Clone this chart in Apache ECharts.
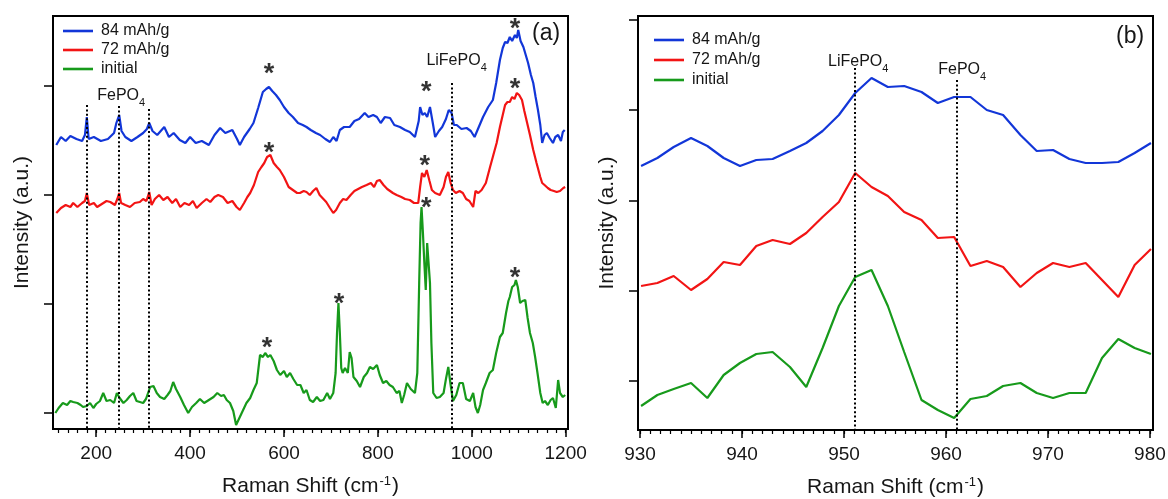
<!DOCTYPE html>
<html>
<head>
<meta charset="utf-8">
<script src="https://cdn.jsdelivr.net/npm/echarts@6/dist/echarts.min.js"></script>
<style>
html, body { margin: 0; padding: 0; background: #fff; }
#chart { width: 1168px; height: 499px; }
</style>
</head>
<body>
<div id="chart"></div>
<script>
const names = ['84 mAh/g', '72 mAh/g', 'initial']
const colors = ['#1236d8', '#f21414', '#179a1b']

// panel (a) : [Raman shift, intensity (a.u., offset traces)]
const blueA = [[115,268],[125,276],[135,272],[145,277],[158,274],[170,272],[176,278],[180,296],[184,274],[195,276],[210,272],[225,274],[238,280],[243,290],[249,298],[254,282],[262,276],[275,272],[288,276],[300,280],[308,284],[313,290],[320,282],[330,278],[345,286],[355,276],[365,280],[378,273],[390,270],[400,276],[412,270],[425,272],[440,268],[452,278],[464,285],[475,280],[490,283],[500,274],[506,268],[515,276],[527,284],[535,290],[545,305],[555,321],[562,324],[568,326],[575,322],[583,318],[591,313],[600,306],[610,300],[619,296],[630,290],[640,288],[648,286],[657,283],[668,280],[677,278],[688,274],[698,271],[705,276],[712,272],[719,283],[728,286],[740,286],[750,292],[760,294],[772,300],[780,296],[790,298],[798,296],[806,290],[815,296],[826,295],[835,288],[847,286],[858,283],[868,281],[879,276],[887,292],[890,306],[895,298],[900,300],[905,296],[911,306],[917,290],[922,276],[930,282],[937,286],[945,294],[951,303],[957,300],[962,288],[968,288],[978,284],[989,285],[998,282],[1006,276],[1015,286],[1024,296],[1035,306],[1045,313],[1052,330],[1060,353],[1066,365],[1071,371],[1076,370],[1081,376],[1086,372],[1092,378],[1096,375],[1099,383],[1104,372],[1110,366],[1115,358],[1120,350],[1126,338],[1131,330],[1136,316],[1141,303],[1146,288],[1150,270],[1155,278],[1160,280],[1166,275],[1173,270],[1178,276],[1184,278],[1190,272],[1194,281],[1198,283]]
const redA = [[115,200],[125,205],[135,208],[145,206],[151,210],[160,206],[170,210],[176,212],[180,220],[185,208],[195,210],[202,206],[212,209],[222,212],[230,211],[240,208],[245,214],[249,220],[253,210],[262,208],[272,206],[282,210],[293,211],[300,214],[307,212],[313,221],[318,208],[325,214],[334,218],[343,213],[352,216],[362,210],[370,214],[379,206],[388,210],[398,208],[406,212],[414,205],[425,210],[435,214],[443,211],[452,216],[460,218],[470,216],[480,210],[490,212],[499,206],[506,203],[515,210],[522,216],[528,220],[536,228],[545,241],[552,246],[558,250],[564,256],[571,258],[578,250],[585,246],[591,243],[600,236],[610,226],[619,223],[628,220],[634,220],[642,222],[648,221],[655,218],[662,222],[669,225],[676,218],[684,214],[690,211],[698,205],[705,200],[711,203],[719,210],[726,214],[733,213],[742,218],[750,222],[758,224],[766,226],[776,228],[785,230],[792,226],[798,232],[804,233],[812,228],[820,224],[832,220],[840,218],[850,216],[858,214],[868,213],[877,210],[886,210],[890,226],[894,240],[899,236],[904,243],[910,232],[915,223],[922,220],[932,218],[940,226],[945,236],[950,241],[955,230],[960,223],[966,220],[974,222],[981,220],[988,214],[995,212],[1003,206],[1008,222],[1014,220],[1021,223],[1030,230],[1039,246],[1046,258],[1053,270],[1060,286],[1066,298],[1071,308],[1076,311],[1081,311],[1086,316],[1091,314],[1096,320],[1101,318],[1107,313],[1112,302],[1118,290],[1124,278],[1131,263],[1138,250],[1146,236],[1150,230],[1155,228],[1162,225],[1168,223],[1175,222],[1181,221],[1188,222],[1195,225],[1199,226]]
const greenA = [[113,0],[120,5],[129,10],[138,8],[145,12],[151,11],[160,10],[167,8],[172,6],[180,7],[187,10],[194,5],[200,9],[208,12],[215,20],[222,12],[230,13],[238,10],[244,20],[250,15],[258,10],[265,13],[272,17],[279,20],[286,12],[293,11],[300,10],[306,14],[315,26],[322,27],[329,20],[336,16],[345,14],[352,18],[358,22],[364,31],[370,24],[379,16],[387,8],[396,0],[404,6],[413,10],[421,14],[430,10],[440,13],[450,16],[458,20],[466,17],[472,18],[478,13],[485,10],[492,2],[498,-12],[505,-5],[513,3],[520,10],[528,15],[535,23],[542,30],[549,58],[555,56],[560,60],[566,56],[571,58],[578,52],[585,43],[592,38],[600,42],[606,36],[613,40],[620,34],[628,28],[635,28],[642,20],[648,23],[655,13],[662,11],[670,16],[677,12],[684,13],[692,20],[698,14],[705,20],[710,40],[713,80],[716,110],[719,80],[722,45],[725,40],[730,45],[736,40],[740,61],[744,55],[748,36],[755,32],[762,26],[770,36],[777,40],[783,46],[790,44],[798,48],[804,38],[811,30],[818,32],[825,28],[832,26],[840,20],[846,22],[851,10],[856,18],[862,30],[870,24],[879,20],[884,40],[888,130],[891,190],[893,206],[896,180],[899,150],[902,123],[905,170],[908,172],[911,130],[914,70],[918,20],[925,15],[932,16],[940,20],[945,34],[950,46],[955,28],[960,12],[967,18],[974,30],[981,30],[988,14],[996,12],[1003,20],[1008,6],[1013,0],[1018,8],[1024,23],[1030,30],[1038,40],[1045,43],[1052,60],[1060,76],[1066,80],[1073,100],[1078,112],[1081,116],[1086,126],[1091,128],[1094,133],[1098,126],[1103,110],[1108,112],[1114,113],[1119,95],[1124,80],[1130,70],[1135,56],[1140,40],[1146,20],[1151,10],[1156,12],[1162,8],[1168,13],[1173,15],[1179,5],[1184,33],[1188,20],[1194,16],[1199,18]]
// peak markers (*) in panel (a)
const starsA = [[568,345],[903,327],[1092,390],[568,266],[900,253],[1092,330],[564,71],[717,115],[903,211],[1092,141]]
// reference lines in panel (a): [position, top of line]
const fepo4A = [[180,308],[249,307],[313,304]]
const lifepo4A = [[957,330]]
const ticksXA = [200, 400, 600, 800, 1000, 1200]
const ticksYA = [0, 109, 218, 327]

// panel (b)
const shiftB = [930.1,931.7,933.3,935.0,936.6,938.2,939.8,941.4,943.0,944.7,946.3,947.9,949.5,951.1,952.7,954.3,955.9,957.6,959.2,960.8,962.4,964.0,965.6,967.3,968.9,970.5,972.1,973.7,975.3,976.9,978.5,980.1]
const blueB = [215,223,234,243,235,223,215,221,222,230,238,250,266,288,303,294,295,289,278,284,284,271,266,246,230,231,222,218,218,219,228,238]
const redB = [95,98,105,91,102,119,116,135,141,137,148,164,179,208,194,185,169,161,143,144,115,120,114,94,108,118,114,118,101,84,116,132]
const greenB = [-25,-14,-8,-2,-17,6,18,27,29,14,-6,33,75,104,111,75,29,-19,-29,-37,-18,-15,-5,-2,-12,-17,-12,-12,23,42,33,27]
const lifepo4B = [[951.1,313]]
const fepo4B = [[961.1,301]]
const ticksXB = [930, 940, 950, 960, 970, 980]
const ticksYB = [0, 90, 180, 271, 361]

const minorA = []
for (let v = 120; v <= 1200; v += 20) minorA.push(v)
const minorB = []
for (let v = 930; v <= 980; v += 1) minorB.push(v)

const font = 'Liberation Sans, Arial, Helvetica, sans-serif'
const ink = '#161616'
const subRich = {
  m: { fontSize: 16, color: ink, padding: [0, 0, 4, 0], verticalAlign: 'bottom' },
  s: { fontSize: 11, color: ink, verticalAlign: 'bottom' },
}

const refLines = (items, text, dist, dx, yMin) => items.map((p, i) => [
  {
    coord: [p[0], p[1]],
    label: {
      show: i === Math.floor(items.length / 2),
      position: 'start',
      distance: dist,
      offset: [dx, 0],
      formatter: text,
      rich: subRich,
    },
  },
  { coord: [p[0], yMin] },
])

const xAxisBase = (grid, min, max, ticks) => ({
  gridIndex: grid,
  type: 'value',
  min,
  max,
  position: 'bottom',
  axisLine: { onZero: false, lineStyle: { color: '#000', width: 2 } },
  axisTick: { length: 8, customValues: ticks, lineStyle: { color: '#000', width: 1.5 } },
  axisLabel: { customValues: ticks, margin: 15, fontSize: 19, color: ink, fontFamily: font, formatter: v => String(v) },
  splitLine: { show: false },
  name: 'Raman Shift (cm{sup|-1})',
  nameLocation: 'middle',
  nameGap: 46,
  nameTextStyle: {
    fontSize: 21,
    color: ink,
    fontFamily: font,
    rich: {
      sup: { fontSize: 13, color: ink, verticalAlign: 'top', padding: [0, 1, 10, 1] },
    },
  },
})

const minorAxis = (grid, min, max, ticks) => ({
  gridIndex: grid,
  type: 'value',
  min,
  max,
  position: 'bottom',
  axisLine: { show: false, onZero: false },
  axisTick: { length: 4, customValues: ticks, lineStyle: { color: '#000', width: 1.2 } },
  axisLabel: { show: false },
  splitLine: { show: false },
})

const yAxisBase = (grid, min, max, ticks) => ({
  gridIndex: grid,
  type: 'value',
  min,
  max,
  axisLine: { onZero: false, lineStyle: { color: '#000', width: 2 } },
  axisTick: { length: 9, customValues: ticks, lineStyle: { color: '#000', width: 1.5 } },
  axisLabel: { show: false },
  splitLine: { show: false },
  name: 'Intensity (a.u.)',
  nameLocation: 'middle',
  nameGap: 20,
  nameTextStyle: { fontSize: 21, color: ink, fontFamily: font },
})

const lineSeries = (name, data, color, xi, yi) => ({
  name,
  type: 'line',
  data,
  xAxisIndex: xi,
  yAxisIndex: yi,
  symbol: 'none',
  lineStyle: { color, width: 2.2 },
  itemStyle: { color },
  animation: false,
})

const dotted = { color: '#000', width: 2, type: [2, 2.4] }

const blueAS = lineSeries(names[0], blueA, colors[0], 0, 0)
const redAS = lineSeries(names[1], redA, colors[1], 0, 0)
const greenAS = lineSeries(names[2], greenA, colors[2], 0, 0)
greenAS.markLine = {
  silent: true,
  symbol: 'none',
  animation: false,
  lineStyle: dotted,
  data: refLines(fepo4A, '{m|FePO}{s|4}', -2, 2, -16).concat(refLines(lifepo4A, '{m|LiFePO}{s|4}', 10, 5, -16)),
}

const blueBS = lineSeries(names[0], shiftB.map((x, i) => [x, blueB[i]]), colors[0], 2, 1)
const redBS = lineSeries(names[1], shiftB.map((x, i) => [x, redB[i]]), colors[1], 2, 1)
const greenBS = lineSeries(names[2], shiftB.map((x, i) => [x, greenB[i]]), colors[2], 2, 1)
greenBS.markLine = {
  silent: true,
  symbol: 'none',
  animation: false,
  lineStyle: dotted,
  data: refLines(lifepo4B, '{m|LiFePO}{s|4}', -6, 3, -49).concat(refLines(fepo4B, '{m|FePO}{s|4}', -2, 5, -49)),
}

const stars = {
  type: 'scatter',
  xAxisIndex: 0,
  yAxisIndex: 0,
  data: starsA,
  symbolSize: 0,
  silent: true,
  animation: false,
  label: {
    show: true,
    formatter: '*',
    position: 'inside',
    offset: [0, 7],
    fontSize: 27,
    fontWeight: 'bold',
    color: '#000',
    fontFamily: font,
  },
}

const legendBase = (left, top, gap) => ({
  data: names,
  left,
  top,
  padding: 0,
  orient: 'vertical',
  icon: 'rect',
  itemWidth: 30,
  itemHeight: 2.6,
  itemGap: gap,
  textStyle: { fontSize: 16, color: ink, fontFamily: font, padding: [0, 0, 0, 3] },
})

const chart = echarts.init(document.getElementById('chart'))
chart.setOption({
  animation: false,
  textStyle: { fontFamily: font },
  grid: [
    { left: 53, top: 16, width: 515, height: 413, show: true, borderColor: '#000', borderWidth: 2, outerBoundsMode: 'none' },
    { left: 638, top: 16, width: 515, height: 414, show: true, borderColor: '#000', borderWidth: 2, outerBoundsMode: 'none' },
  ],
  xAxis: [
    xAxisBase(0, 108, 1205, ticksXA),
    minorAxis(0, 108, 1205, minorA),
    xAxisBase(1, 929.8, 980.3, ticksXB),
    minorAxis(1, 929.8, 980.3, minorB),
  ],
  yAxis: [
    yAxisBase(0, -16, 397, ticksYA),
    yAxisBase(1, -49, 365, ticksYB),
  ],
  legend: [legendBase(63, 23, 3), legendBase(654, 32, 4)],
  graphic: [
    { type: 'text', left: 532, top: 22, style: { text: '(a)', fontSize: 23, fill: ink, fontFamily: font } },
    { type: 'text', left: 1116, top: 25, style: { text: '(b)', fontSize: 23, fill: ink, fontFamily: font } },
  ],
  series: [blueAS, redAS, greenAS, stars, blueBS, redBS, greenBS],
})
</script>
</body>
</html>
